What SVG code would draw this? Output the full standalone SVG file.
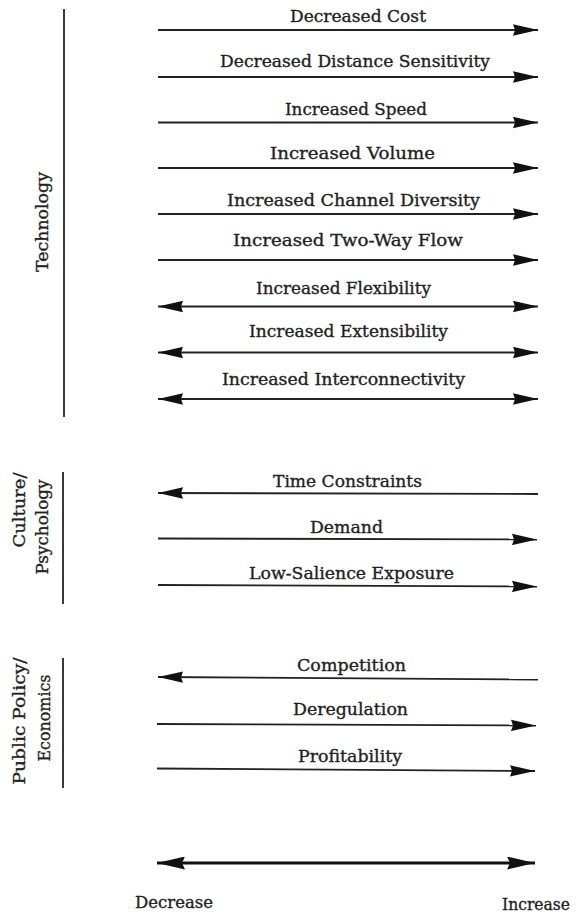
<svg xmlns="http://www.w3.org/2000/svg" width="576" height="916" viewBox="0 0 576 916">
<defs>
<style>
text{font-family:"DejaVu Serif","Liberation Serif",serif;font-size:17px;fill:#222;stroke:#222;stroke-width:0.35}
.ln{stroke:#222;stroke-width:1.8;fill:none}
.ax{stroke:#3a3a3a;stroke-width:2;fill:none}
.big{stroke:#111;stroke-width:3;fill:none}
</style>
<marker id="ah" viewBox="0 0 25 12" refX="25" refY="6" markerWidth="25" markerHeight="12" markerUnits="userSpaceOnUse" orient="auto-start-reverse">
<path d="M0,0.3 L25,6 L0,11.7 L2,6 Z" fill="#111"/>
</marker>
<marker id="ahb" viewBox="0 0 28 13" refX="28" refY="6.5" markerWidth="28" markerHeight="13" markerUnits="userSpaceOnUse" orient="auto-start-reverse">
<path d="M0,0 L28,6.5 L0,13 L3,6.5 Z" fill="#111"/>
</marker>
</defs>
<rect width="576" height="916" fill="#fff"/>

<g id="axes">
<line class="ax" x1="64" y1="9" x2="64" y2="417"/>
<line class="ax" x1="63" y1="472" x2="63" y2="604"/>
<line class="ax" x1="63" y1="658" x2="63" y2="788"/>
</g>

<g id="category-labels">
<text id="technology" transform="translate(48,222) rotate(-90)" text-anchor="middle" textLength="100" lengthAdjust="spacingAndGlyphs">Technology</text>
<g id="culture-psychology">
<text transform="translate(25,510) rotate(-90)" text-anchor="middle" textLength="75" lengthAdjust="spacingAndGlyphs">Culture/</text>
<text transform="translate(48,527) rotate(-90)" text-anchor="middle" textLength="95" lengthAdjust="spacingAndGlyphs">Psychology</text>
</g>
<g id="policy-economics">
<text transform="translate(25,721) rotate(-90)" text-anchor="middle" textLength="127" lengthAdjust="spacingAndGlyphs">Public Policy/</text>
<text transform="translate(50,718) rotate(-90)" text-anchor="middle" textLength="87" lengthAdjust="spacingAndGlyphs">Economics</text>
</g>
</g>

<g id="connectors">
<line class="ln" x1="158" y1="30" x2="538" y2="30" marker-end="url(#ah)"/>
<line class="ln" x1="158" y1="77" x2="538" y2="77" marker-end="url(#ah)"/>
<line class="ln" x1="158" y1="122.5" x2="538" y2="122.5" marker-end="url(#ah)"/>
<line class="ln" x1="158" y1="168" x2="538" y2="168" marker-end="url(#ah)"/>
<line class="ln" x1="158" y1="214" x2="538" y2="214" marker-end="url(#ah)"/>
<line class="ln" x1="158" y1="260" x2="538" y2="260" marker-end="url(#ah)"/>
<line class="ln" x1="158" y1="306.5" x2="538" y2="306.5" marker-start="url(#ah)" marker-end="url(#ah)"/>
<line class="ln" x1="158" y1="352.5" x2="538" y2="352.5" marker-start="url(#ah)" marker-end="url(#ah)"/>
<line class="ln" x1="158" y1="399" x2="538" y2="399" marker-start="url(#ah)" marker-end="url(#ah)"/>
<line class="ln" x1="158" y1="493" x2="538" y2="494" marker-start="url(#ah)"/>
<line class="ln" x1="158" y1="538.5" x2="537" y2="539.5" marker-end="url(#ah)"/>
<line class="ln" x1="158" y1="585" x2="537" y2="586.5" marker-end="url(#ah)"/>
<line class="ln" x1="158" y1="677" x2="538" y2="679.5" marker-start="url(#ah)"/>
<line class="ln" x1="157" y1="724" x2="536" y2="725.5" marker-end="url(#ah)"/>
<line class="ln" x1="157" y1="768.5" x2="535" y2="771" marker-end="url(#ah)"/>
<line class="big" x1="157" y1="863" x2="535" y2="863" marker-start="url(#ahb)" marker-end="url(#ahb)"/>
</g>

<g id="arrow-labels">
<text id="t1" x="290" y="22" textLength="136" lengthAdjust="spacingAndGlyphs">Decreased Cost</text>
<text id="t2" x="220" y="67" textLength="270" lengthAdjust="spacingAndGlyphs">Decreased Distance Sensitivity</text>
<text id="t3" x="285" y="115" textLength="142" lengthAdjust="spacingAndGlyphs">Increased Speed</text>
<text id="t4" x="270" y="159" textLength="165" lengthAdjust="spacingAndGlyphs">Increased Volume</text>
<text id="t5" x="227" y="206" textLength="253" lengthAdjust="spacingAndGlyphs">Increased Channel Diversity</text>
<text id="t6" x="233" y="246" textLength="230" lengthAdjust="spacingAndGlyphs">Increased Two-Way Flow</text>
<text id="t7" x="256" y="294" textLength="175" lengthAdjust="spacingAndGlyphs">Increased Flexibility</text>
<text id="t8" x="249" y="337" textLength="199" lengthAdjust="spacingAndGlyphs">Increased Extensibility</text>
<text id="t9" x="222" y="385" textLength="243" lengthAdjust="spacingAndGlyphs">Increased Interconnectivity</text>
<text id="t10" x="273" y="487" textLength="149" lengthAdjust="spacingAndGlyphs">Time Constraints</text>
<text id="t11" x="310" y="533" textLength="73" lengthAdjust="spacingAndGlyphs">Demand</text>
<text id="t12" x="249" y="579" textLength="205" lengthAdjust="spacingAndGlyphs">Low-Salience Exposure</text>
<text id="t13" x="297" y="671" textLength="109" lengthAdjust="spacingAndGlyphs">Competition</text>
<text id="t14" x="293" y="715" textLength="115" lengthAdjust="spacingAndGlyphs">Deregulation</text>
<text id="t15" x="298" y="762" textLength="104" lengthAdjust="spacingAndGlyphs">Profitability</text>
</g>

<g id="legend">
<text x="135" y="908" textLength="78" lengthAdjust="spacingAndGlyphs">Decrease</text>
<text x="502" y="910" textLength="68" lengthAdjust="spacingAndGlyphs">Increase</text>
</g>
</svg>
